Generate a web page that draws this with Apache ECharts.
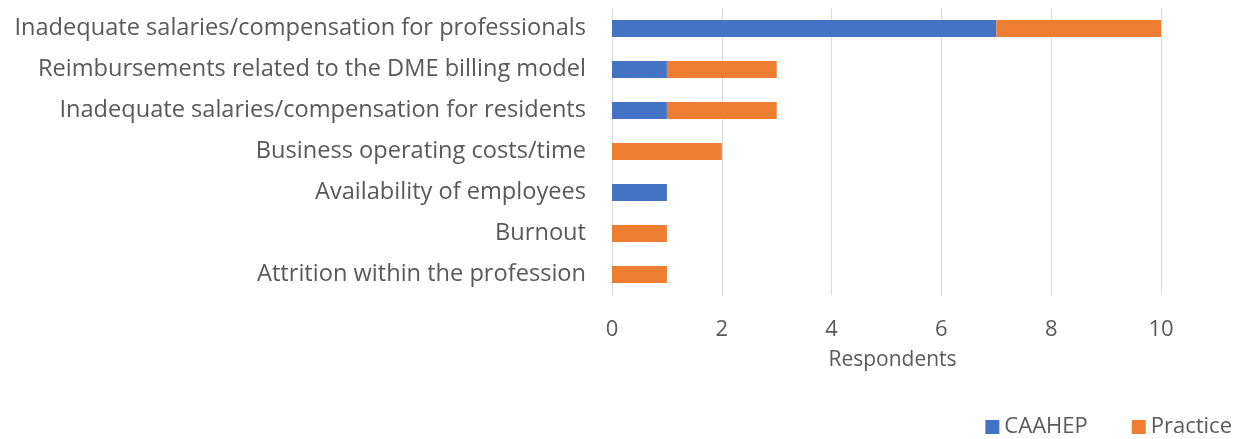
<!DOCTYPE html>
<html>
<head>
<meta charset="utf-8">
<script src="https://cdn.jsdelivr.net/npm/echarts@6/dist/echarts.min.js"></script>
<style>
  html, body { margin: 0; padding: 0; background: #ffffff; }
  #chart { width: 1246px; height: 439px; }
</style>
</head>
<body>
<div id="chart"></div>
<script>
// Challenges reported, listed top to bottom
const categories = [
  'Inadequate salaries/compensation for professionals',
  'Reimbursements related to the DME billing model',
  'Inadequate salaries/compensation for residents',
  'Business operating costs/time',
  'Availability of employees',
  'Burnout',
  'Attrition within the profession'
];
const caahepValues   = [7, 1, 1, 0, 1, 0, 0];
const practiceValues = [3, 2, 2, 2, 0, 1, 1];
const xTicks = [0, 2, 4, 6, 8, 10];

const textColor = '#595959';
const fontFamily = '"Open Sans", Lato, sans-serif';

const chart = echarts.init(document.getElementById('chart'), null, { renderer: 'canvas' });
chart.setOption({
  animation: false,
  backgroundColor: '#ffffff',
  textStyle: { fontFamily: fontFamily, color: textColor },
  grid: { left: 612, right: 85, top: 8, bottom: 144, containLabel: false },
  legend: {
    right: 9, bottom: -4,
    itemWidth: 14, itemHeight: 14, itemGap: 44,
    icon: 'rect',
    textStyle: { fontSize: 22, color: textColor, fontFamily: fontFamily },
    data: ['CAAHEP', 'Practice']
  },
  xAxis: {
    type: 'value',
    min: xTicks[0], max: xTicks[xTicks.length - 1], interval: 2,
    name: 'Respondents', nameLocation: 'middle', nameGap: 55,
    nameTextStyle: { fontSize: 21, color: textColor, fontFamily: fontFamily, padding: [0, 0, 0, 12] },
    axisLine: { show: false },
    axisTick: { show: false },
    axisLabel: { fontSize: 22, color: textColor, margin: 24, fontFamily: fontFamily },
    splitLine: { show: true, lineStyle: { color: '#d9d9d9', width: 1 } }
  },
  yAxis: {
    type: 'category',
    inverse: true,
    data: categories,
    axisLine: { show: true, lineStyle: { color: '#d9d9d9' } },
    axisTick: { show: false },
    axisLabel: { fontSize: 23.6, color: textColor, margin: 26, fontFamily: fontFamily }
  },
  series: [
    {
      name: 'CAAHEP', type: 'bar', stack: 'total',
      data: caahepValues, barWidth: '41%',
      itemStyle: { color: '#4472C4' }
    },
    {
      name: 'Practice', type: 'bar', stack: 'total',
      data: practiceValues, barWidth: '41%',
      itemStyle: { color: '#ED7D31' }
    }
  ]
});
</script>
</body>
</html>
